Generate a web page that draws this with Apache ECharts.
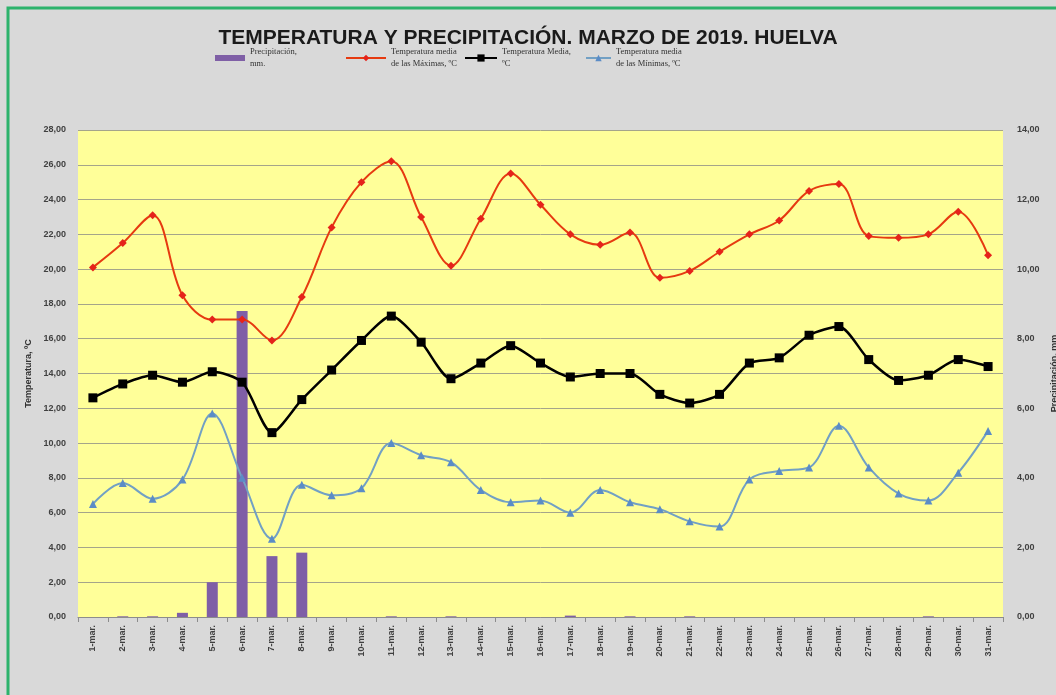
<!DOCTYPE html>
<html>
<head>
<meta charset="utf-8">
<script src="https://cdn.jsdelivr.net/npm/echarts@6/dist/echarts.min.js"></script>
<style>
html,body{margin:0;padding:0;background:#f4f4ec;}
#c{width:1056px;height:695px;}
</style>
</head>
<body>
<div id="c"></div>
<script>
const days = ['1-mar.','2-mar.','3-mar.','4-mar.','5-mar.','6-mar.','7-mar.','8-mar.','9-mar.','10-mar.','11-mar.','12-mar.','13-mar.','14-mar.','15-mar.','16-mar.','17-mar.','18-mar.','19-mar.','20-mar.','21-mar.','22-mar.','23-mar.','24-mar.','25-mar.','26-mar.','27-mar.','28-mar.','29-mar.','30-mar.','31-mar.'];
const precip = [0, 0.02, 0.02, 0.12, 1.0, 8.8, 1.75, 1.85, 0, 0, 0.02, 0, 0.02, 0, 0, 0, 0.04, 0, 0.02, 0, 0.02, 0, 0, 0, 0, 0, 0, 0, 0.02, 0, 0];
const tMax = [20.1, 21.5, 23.1, 18.5, 17.1, 17.1, 15.9, 18.4, 22.4, 25.0, 26.2, 23.0, 20.2, 22.9, 25.5, 23.7, 22.0, 21.4, 22.1, 19.5, 19.9, 21.0, 22.0, 22.8, 24.5, 24.9, 21.9, 21.8, 22.0, 23.3, 20.8];
const tMed = [12.6, 13.4, 13.9, 13.5, 14.1, 13.5, 10.6, 12.5, 14.2, 15.9, 17.3, 15.8, 13.7, 14.6, 15.6, 14.6, 13.8, 14.0, 14.0, 12.8, 12.3, 12.8, 14.6, 14.9, 16.2, 16.7, 14.8, 13.6, 13.9, 14.8, 14.4];
const tMin = [6.5, 7.7, 6.8, 7.9, 11.7, 8.0, 4.5, 7.6, 7.0, 7.4, 10.0, 9.3, 8.9, 7.3, 6.6, 6.7, 6.0, 7.3, 6.6, 6.2, 5.5, 5.2, 7.9, 8.4, 8.6, 11.0, 8.6, 7.1, 6.7, 8.3, 10.7];

const names = ['Precipitación,\nmm.', 'Temperatura media\nde las Máximas, ºC', 'Temperatura Media,\nºC', 'Temperatura media\nde las Mínimas, ºC'];
const fmt = v => v.toFixed(2).replace('.', ',');
const axisFont = {fontFamily:'Liberation Sans', fontSize:9, fontWeight:'bold', color:'#404040'};
const legendText = {fontFamily:'Liberation Serif', fontSize:8.5, color:'#333', lineHeight:12};

const chart = echarts.init(document.getElementById('c'));
function mkLegend(name, left, icon, w, h){
  const d = {name:name};
  if (icon) d.icon = icon;
  return {data:[d], left:left, top:46, itemWidth:w, itemHeight:h, itemGap:0,
    textStyle:legendText, padding:0, align:'left'};
}
chart.setOption({
  backgroundColor:'#d9d9d9',
  animation:false,
  graphic:[
    {type:'rect', shape:{x:8, y:8, width:1100, height:740}, style:{fill:null, stroke:'#2db36c', lineWidth:3}, z:100}
  ],
  title:{text:'TEMPERATURA Y PRECIPITACIÓN. MARZO DE 2019. HUELVA', left:'center', top:23,
    textStyle:{fontFamily:'Liberation Sans Narrow, Liberation Sans', fontSize:21, fontWeight:'bold', color:'#1a1a1a'}},
  legend:[
    mkLegend(names[0], 215, 'rect', 30, 6),
    mkLegend(names[1], 345, null, 40, 8),
    mkLegend(names[2], 464, null, 32, 9),
    mkLegend(names[3], 585, null, 25, 8)
  ],
  grid:{left:78, right:53, top:130, bottom:78, show:true, backgroundColor:'#ffff99', borderWidth:0, outerBoundsMode:'none', containLabel:false},
  xAxis:{type:'category', data:days, boundaryGap:true,
    axisLine:{lineStyle:{color:'#8c8c8c'}}, axisTick:{show:true, alignWithLabel:false, lineStyle:{color:'#8c8c8c'}},
    axisLabel:Object.assign({rotate:90, interval:0, margin:8}, axisFont)},
  yAxis:[
    {type:'value', min:0, max:28, interval:2, name:'Temperatura, ºC', nameLocation:'middle', nameGap:32,
     nameTextStyle:{fontFamily:'Liberation Sans', fontSize:9, fontWeight:'bold', color:'#333'},
     axisLine:{show:false}, axisTick:{show:false},
     splitLine:{lineStyle:{color:'#a5a58a', width:1}},
     axisLabel:Object.assign({formatter:fmt, margin:12}, axisFont)},
    {type:'value', min:0, max:14, interval:2, name:'Precipitación, mm', nameLocation:'middle', nameGap:42,
     nameTextStyle:{fontFamily:'Liberation Sans', fontSize:9, fontWeight:'bold', color:'#333'},
     axisLine:{show:false}, axisTick:{show:false}, splitLine:{show:false},
     axisLabel:Object.assign({formatter:fmt, margin:14}, axisFont)}
  ],
  series:[
    {name:names[0], type:'bar', yAxisIndex:1, data:precip, barWidth:11, itemStyle:{color:'#7f5fa6'}, z:1},
    {name:names[1], type:'line', data:tMax, smooth:0.35, symbol:'diamond', symbolSize:8,
     lineStyle:{color:'#e63a10', width:2}, itemStyle:{color:'#e5231b'}, z:3},
    {name:names[2], type:'line', data:tMed, smooth:0.25, symbol:'rect', symbolSize:9,
     lineStyle:{color:'#000', width:2.5}, itemStyle:{color:'#000'}, z:4},
    {name:names[3], type:'line', data:tMin, smooth:0.35, symbol:'triangle', symbolSize:8,
     lineStyle:{color:'#72a0c4', width:2}, itemStyle:{color:'#5b8cc6'}, z:2}
  ]
});
</script>
</body>
</html>
